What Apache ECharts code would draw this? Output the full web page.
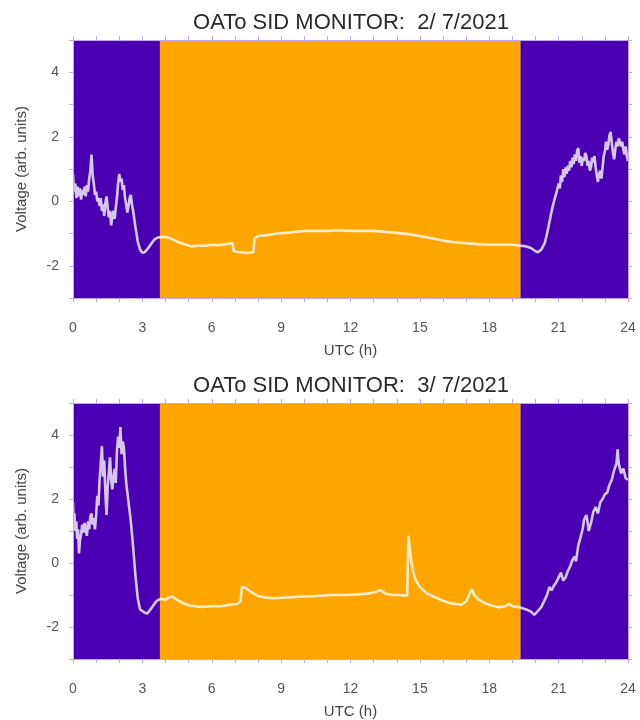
<!DOCTYPE html>
<html>
<head>
<meta charset="utf-8">
<script src="https://cdn.jsdelivr.net/npm/echarts@6/dist/echarts.min.js"></script>
<style>
body { margin: 0; background: #fff; }
#chart { width: 640px; height: 720px; }
</style>
</head>
<body>
<div id="chart"></div>
<script>
// titoli dei due giorni
var titles = ["OATo SID MONITOR:  2/ 7/2021", "OATo SID MONITOR:  3/ 7/2021"];
// alba / tramonto (ore UTC)
var sunrise = [3.76, 3.76];
var sunset = [19.35, 19.35];

// giorno 2/7/2021
var hoursA = [0.00,0.05,0.10,0.15,0.20,0.25,0.30,0.35,0.40,0.45,0.50,0.55,0.60,0.65,0.70,0.75,0.80,0.85,0.90,0.95,
  1.00,1.05,1.10,1.15,1.20,1.25,1.30,1.35,1.40,1.45,1.50,1.55,1.60,1.65,1.70,1.75,1.80,1.85,1.90,1.95,
  2.00,2.05,2.10,2.15,2.20,2.25,2.30,2.35,2.40,2.45,2.50,2.55,2.60,2.70,2.80,2.90,3.00,3.10,3.20,3.30,
  3.40,3.50,3.60,3.70,3.90,4.10,4.30,4.50,4.70,4.90,5.10,5.40,5.70,6.00,6.30,6.60,6.90,6.95,7.20,7.50,
  7.80,7.85,8.00,8.40,8.80,9.20,9.60,10.00,10.50,11.00,11.50,12.00,12.50,13.00,13.50,14.00,14.50,15.00,15.50,16.00,
  16.50,17.00,17.50,18.00,18.50,19.00,19.30,19.60,19.80,20.00,20.10,20.25,20.40,20.50,20.60,20.70,20.80,20.90,21.00,21.05,
  21.10,21.15,21.20,21.25,21.30,21.35,21.40,21.45,21.50,21.55,21.60,21.65,21.70,21.75,21.80,21.85,21.90,21.95,22.00,22.05,
  22.10,22.15,22.20,22.25,22.30,22.35,22.40,22.45,22.50,22.55,22.60,22.65,22.70,22.75,22.80,22.85,22.90,22.95,23.00,23.05,
  23.10,23.15,23.20,23.25,23.30,23.35,23.40,23.45,23.50,23.55,23.60,23.65,23.70,23.75,23.80,23.85,23.90,23.95,24.00];
var voltsA = [0.85,0.30,0.55,0.10,0.45,0.15,0.40,0.05,0.35,0.20,0.45,0.15,0.50,0.30,0.70,0.95,1.45,0.80,0.55,0.20,
  0.30,0.00,0.10,-0.15,0.10,-0.30,-0.10,-0.45,-0.05,0.15,-0.20,-0.50,-0.30,-0.75,-0.45,-0.30,-0.55,-0.20,0.10,0.55,
  0.85,0.60,0.70,0.35,0.50,0.10,-0.10,-0.35,-0.15,0.10,0.20,-0.10,-0.30,-0.80,-1.25,-1.50,-1.60,-1.58,-1.50,-1.40,
  -1.30,-1.20,-1.15,-1.12,-1.10,-1.12,-1.18,-1.25,-1.30,-1.35,-1.40,-1.38,-1.38,-1.35,-1.36,-1.33,-1.30,-1.55,-1.58,-1.60,
  -1.58,-1.15,-1.08,-1.05,-1.00,-0.98,-0.95,-0.92,-0.92,-0.92,-0.90,-0.92,-0.92,-0.92,-0.95,-0.98,-1.02,-1.08,-1.15,-1.22,
  -1.27,-1.30,-1.33,-1.35,-1.35,-1.35,-1.37,-1.40,-1.45,-1.55,-1.58,-1.50,-1.30,-1.00,-0.65,-0.30,0.00,0.25,0.55,0.40,
  0.80,0.60,1.00,0.75,1.05,0.85,1.10,0.95,1.25,1.05,1.35,1.15,1.45,1.25,1.55,1.65,1.20,1.40,1.10,1.35,
  1.25,1.50,1.40,1.10,1.25,0.95,1.05,1.35,1.20,1.40,1.05,0.80,0.60,0.85,0.95,0.70,1.05,1.40,1.55,1.85,
  1.60,1.75,2.05,2.15,1.80,1.50,1.30,1.60,1.85,1.70,1.95,1.85,1.70,1.85,1.60,1.45,1.70,1.40,1.25];

// giorno 3/7/2021
var hoursB = [0.00,0.03,0.06,0.10,0.14,0.18,0.22,0.26,0.30,0.35,0.40,0.45,0.50,0.55,0.60,0.65,0.70,0.75,0.80,0.85,
  0.90,0.95,1.00,1.05,1.10,1.15,1.20,1.25,1.30,1.35,1.40,1.45,1.50,1.55,1.60,1.65,1.70,1.75,1.80,1.85,
  1.90,1.95,2.00,2.05,2.10,2.15,2.20,2.25,2.30,2.40,2.50,2.60,2.70,2.80,2.90,3.00,3.10,3.20,3.30,3.40,
  3.50,3.60,3.70,3.80,4.00,4.15,4.30,4.50,4.75,5.00,5.30,5.60,6.00,6.40,6.80,7.10,7.25,7.30,7.45,7.60,
  7.80,8.00,8.30,8.70,9.20,9.80,10.50,11.20,11.80,12.30,12.80,13.10,13.30,13.50,13.80,14.10,14.45,14.50,14.55,14.62,
  14.70,14.80,14.95,15.10,15.30,15.60,16.00,16.40,16.80,17.00,17.15,17.25,17.35,17.50,17.80,18.10,18.40,18.70,18.85,19.00,
  19.30,19.60,19.80,19.95,20.10,20.25,20.40,20.50,20.60,20.70,20.80,20.90,21.00,21.10,21.20,21.30,21.40,21.50,21.60,21.70,
  21.75,21.85,21.95,22.05,22.10,22.20,22.25,22.30,22.40,22.50,22.60,22.70,22.80,22.90,23.00,23.10,23.20,23.30,23.40,23.50,
  23.55,23.60,23.70,23.80,23.90,24.00];
var voltsB = [1.90,1.20,1.55,1.00,1.30,0.75,1.05,0.30,0.70,0.90,1.20,0.95,1.25,1.05,0.85,1.30,1.05,1.45,1.55,1.20,
  1.40,1.05,1.50,2.10,1.80,2.60,3.10,3.65,2.70,3.20,2.20,1.50,2.40,2.80,3.30,2.60,2.30,2.70,2.95,2.50,
  3.50,3.95,3.60,4.25,3.40,3.80,3.60,3.00,2.50,1.90,1.30,0.50,-0.40,-1.10,-1.45,-1.50,-1.55,-1.58,-1.50,-1.40,
  -1.30,-1.20,-1.15,-1.12,-1.15,-1.08,-1.05,-1.15,-1.25,-1.32,-1.35,-1.37,-1.35,-1.35,-1.30,-1.28,-1.20,-0.75,-0.78,-0.85,
  -0.95,-1.03,-1.08,-1.10,-1.08,-1.05,-1.03,-1.00,-1.00,-0.98,-0.95,-0.90,-0.85,-0.95,-1.00,-1.00,-1.02,0.85,0.55,0.10,
  -0.25,-0.50,-0.70,-0.82,-0.95,-1.05,-1.18,-1.27,-1.30,-1.20,-0.95,-0.82,-1.00,-1.12,-1.25,-1.33,-1.38,-1.35,-1.28,-1.35,
  -1.38,-1.45,-1.52,-1.62,-1.50,-1.38,-1.15,-1.00,-0.75,-0.85,-0.70,-0.60,-0.45,-0.30,-0.55,-0.45,-0.25,-0.10,0.10,0.20,
  0.05,0.55,0.80,1.10,1.35,1.50,1.30,1.00,1.25,1.60,1.75,1.55,1.90,2.00,2.15,2.20,2.45,2.60,2.90,3.10,
  3.55,3.10,2.80,2.95,2.65,2.60];

var xTicks = [0, 3, 6, 9, 12, 15, 18, 21, 24];
var yTicks = [-2, 0, 2, 4];

var nightColor = "#4a00b2";
var dayColor = "#ffa500";
var frameColor = "#c4a4f4";
var font = "Liberation Sans";

function pairs(h, v) {
    var out = [];
    for (var i = 0; i < h.length; i++) {
        out.push([h[i], v[i]]);
    }
    return out;
}

var gridTops = [40, 403];
var grids = [], xAxes = [], yAxes = [], series = [], texts = [];
var allHours = [hoursA, hoursB];
var allVolts = [voltsA, voltsB];

for (var g = 0; g < 2; g++) {
    grids.push({left: 73, right: 12, top: gridTops[g], height: 258});

    xAxes.push({
        gridIndex: g, type: "value", min: 0, max: 24, interval: 1, z: 10,
        name: "UTC (h)", nameLocation: "middle", nameGap: 45,
        nameTextStyle: {fontFamily: font, fontSize: 15, color: "#444"},
        axisLine: {onZero: false, lineStyle: {color: frameColor, width: 1}},
        axisTick: {length: 4, lineStyle: {color: frameColor}},
        axisLabel: {
            margin: 23, fontFamily: font, fontSize: 14, color: "#555",
            formatter: function (v) { return xTicks.indexOf(v) >= 0 ? String(v) : ""; }
        },
        splitLine: {show: false}
    });
    xAxes.push({
        gridIndex: g, type: "value", min: 0, max: 24, interval: 1, position: "top", z: 10,
        axisLine: {onZero: false, lineStyle: {color: frameColor, width: 1}},
        axisTick: {length: 4, lineStyle: {color: frameColor}},
        axisLabel: {show: false}, splitLine: {show: false}
    });
    yAxes.push({
        gridIndex: g, type: "value", min: -3, max: 5, interval: 1, z: 10,
        name: "Voltage (arb. units)", nameLocation: "middle", nameGap: 44,
        nameTextStyle: {fontFamily: font, fontSize: 15, color: "#444"},
        axisLine: {show: true, onZero: false, lineStyle: {color: frameColor, width: 1}},
        axisTick: {show: true, length: 4, lineStyle: {color: frameColor}},
        axisLabel: {
            margin: 14, fontFamily: font, fontSize: 14, color: "#555",
            formatter: function (v) { return yTicks.indexOf(v) >= 0 ? String(v) : ""; }
        },
        splitLine: {show: false}
    });
    yAxes.push({
        gridIndex: g, type: "value", min: -3, max: 5, interval: 1, position: "right", z: 10,
        axisLine: {show: true, onZero: false, lineStyle: {color: frameColor, width: 1}},
        axisTick: {show: true, length: 4, lineStyle: {color: frameColor}},
        axisLabel: {show: false}, splitLine: {show: false}
    });

    // sfondo notte / giorno
    series.push({
        type: "line", xAxisIndex: g * 2, yAxisIndex: g * 2, data: [], z: 1, silent: true,
        markArea: {
            silent: true,
            data: [
                [{xAxis: 0, itemStyle: {color: nightColor}}, {xAxis: sunrise[g]}],
                [{xAxis: sunrise[g], itemStyle: {color: dayColor}}, {xAxis: sunset[g]}],
                [{xAxis: sunset[g], itemStyle: {color: nightColor}}, {xAxis: 24}]
            ]
        }
    });
    series.push({
        type: "line", xAxisIndex: g * 2, yAxisIndex: g * 2, z: 5,
        data: pairs(allHours[g], allVolts[g]),
        showSymbol: false, silent: true,
        lineStyle: {color: "rgba(255,255,255,0.78)", width: 2.6}
    });

    // titolo centrato sopra il grafico
    texts.push({
        type: "text", x: 351, y: gridTops[g] - 17,
        style: {text: titles[g], fontFamily: font, fontSize: 22, fill: "#2a2a2a", textAlign: "center", textVerticalAlign: "middle"}
    });
}

var myChart = echarts.init(document.getElementById("chart"));
myChart.setOption({
    animation: false,
    backgroundColor: "#fff",
    grid: grids,
    xAxis: xAxes,
    yAxis: yAxes,
    series: series,
    graphic: texts
});
</script>
</body>
</html>
